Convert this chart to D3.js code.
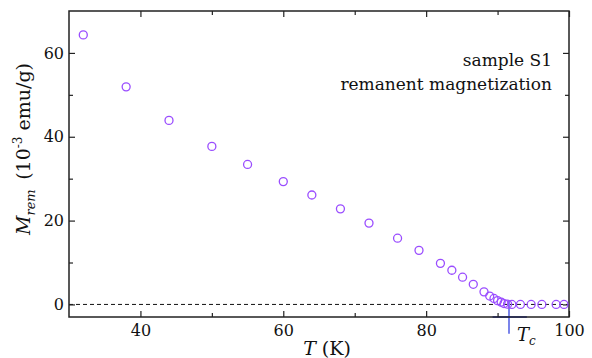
<!DOCTYPE html>
<html>
<head>
<meta charset="utf-8">
<script src="https://cdn.jsdelivr.net/npm/d3@7"></script>
<style>
  body { margin: 0; background: #fff; }
  svg text { font-family: "DejaVu Serif", "Liberation Serif", serif; fill: #111; }
</style>
</head>
<body>
<svg width="592" height="358"></svg>
<script>
// temperature (K) and remanent magnetization (10^-3 emu/g)
const temps = [32, 38, 44, 50, 55, 60, 64, 68, 72, 76, 79, 82, 83.6, 85.1, 86.6, 88.1,
  88.9, 89.5, 90.0, 90.5, 90.9, 91.4, 92.0, 93.2, 94.7, 96.2, 98.2, 99.3];
const mrem = [64.3, 51.9, 43.9, 37.7, 33.4, 29.3, 26.1, 22.8, 19.4, 15.8, 12.9, 9.8, 8.15, 6.5, 4.8, 3.0,
  2.0, 1.43, 0.9, 0.55, 0.2, 0.07, 0, 0, 0, 0, 0, 0];
const xTicks = [40, 60, 80, 100];
const xMinor = [50, 70, 90];
const yTicks = [0, 20, 40, 60];
const yMinor = [10, 30, 50];
const tc = 91.6;
const tcBar = [89.3, 94.1];

const svg = d3.select('svg');
const mLeft = 69, mRight = 569, mTop = 11, mBottom = 317;

const x = d3.scaleLinear().domain([30, 100]).range([mLeft, mRight]);
const y = d3.scaleLinear().domain([-3, 70]).range([mBottom, mTop]);

const axisColor = '#222';

// zero line
svg.append('line')
  .attr('x1', mLeft).attr('x2', mRight)
  .attr('y1', y(0)).attr('y2', y(0))
  .attr('stroke', '#111').attr('stroke-width', 1)
  .attr('stroke-dasharray', '4,3');

// Tc marker
svg.append('line')
  .attr('x1', x(tc)).attr('x2', x(tc))
  .attr('y1', y(1)).attr('y2', y(-7))
  .attr('stroke', '#2233dd').attr('stroke-width', 1.2);
svg.append('line')
  .attr('x1', x(tcBar[0])).attr('x2', x(tcBar[1]))
  .attr('y1', y(-3)).attr('y2', y(-3))
  .attr('stroke', '#2233dd').attr('stroke-width', 1.5);

// axes with inward ticks
const tickOpts = (ax, vals, size) => ax.tickValues(vals).tickSize(size).tickFormat('');

svg.append('g').attr('transform', `translate(0,${mBottom})`)
  .call(d3.axisBottom(x).tickValues(xTicks).tickSize(-6).tickPadding(8).tickFormat(d3.format('d')))
  .call(g => g.select('.domain').remove())
  .call(g => g.selectAll('text').attr('font-size', 16).attr('fill', '#111'));
svg.append('g').attr('transform', `translate(0,${mBottom})`)
  .call(tickOpts(d3.axisBottom(x), xMinor, -4))
  .call(g => g.select('.domain').remove());
svg.append('g').attr('transform', `translate(0,${mTop})`)
  .call(tickOpts(d3.axisTop(x), xTicks, -6))
  .call(g => g.select('.domain').remove());
svg.append('g').attr('transform', `translate(0,${mTop})`)
  .call(tickOpts(d3.axisTop(x), xMinor, -4))
  .call(g => g.select('.domain').remove());

svg.append('g').attr('transform', `translate(${mLeft},0)`)
  .call(d3.axisLeft(y).tickValues(yTicks).tickSize(-6).tickPadding(5).tickFormat(d3.format('d')))
  .call(g => g.select('.domain').remove())
  .call(g => g.selectAll('text').attr('font-size', 16).attr('fill', '#111'));
svg.append('g').attr('transform', `translate(${mLeft},0)`)
  .call(tickOpts(d3.axisLeft(y), yMinor, -4))
  .call(g => g.select('.domain').remove());
svg.append('g').attr('transform', `translate(${mRight},0)`)
  .call(tickOpts(d3.axisRight(y), yTicks, -6))
  .call(g => g.select('.domain').remove());
svg.append('g').attr('transform', `translate(${mRight},0)`)
  .call(tickOpts(d3.axisRight(y), yMinor, -4))
  .call(g => g.select('.domain').remove());

svg.selectAll('.tick line').attr('stroke', axisColor).attr('stroke-width', 1.2);

svg.append('rect')
  .attr('x', mLeft).attr('y', mTop)
  .attr('width', mRight - mLeft).attr('height', mBottom - mTop)
  .attr('fill', 'none').attr('stroke', axisColor).attr('stroke-width', 1.5);

// data
svg.append('g').selectAll('circle')
  .data(temps.map((t, i) => [t, mrem[i]]))
  .join('circle')
  .attr('cx', d => x(d[0]))
  .attr('cy', d => y(d[1]))
  .attr('r', 4)
  .attr('fill', 'none')
  .attr('stroke', '#9a4dff')
  .attr('stroke-width', 1.3);

// annotation
const ann = svg.append('text').attr('text-anchor', 'end').attr('font-size', 17);
ann.append('tspan').attr('x', 552).attr('y', 66).text('sample S1');
ann.append('tspan').attr('x', 552).attr('y', 90).text('remanent magnetization');

// Tc label
const tcl = svg.append('text').attr('x', 517).attr('y', 341).attr('font-size', 18);
tcl.append('tspan').attr('font-style', 'italic').text('T');
tcl.append('tspan').attr('font-style', 'italic').attr('font-size', 12).attr('dy', 4).text('c');

// x label
const xl = svg.append('text').attr('x', 327).attr('y', 355).attr('text-anchor', 'middle').attr('font-size', 19);
xl.append('tspan').attr('font-style', 'italic').text('T');
xl.append('tspan').text(' (K)');

// y label
const yl = svg.append('text')
  .attr('transform', 'translate(30,149) rotate(-90)')
  .attr('text-anchor', 'middle').attr('font-size', 19);
yl.append('tspan').attr('font-style', 'italic').text('M');
yl.append('tspan').attr('font-style', 'italic').attr('font-size', 13).attr('dy', 5).text('rem');
yl.append('tspan').attr('dy', -5).text('\u2002(10');
yl.append('tspan').attr('font-size', 12).attr('dy', -8).text('-3');
yl.append('tspan').attr('dy', 8).text(' emu/g)');
</script>
</body>
</html>
